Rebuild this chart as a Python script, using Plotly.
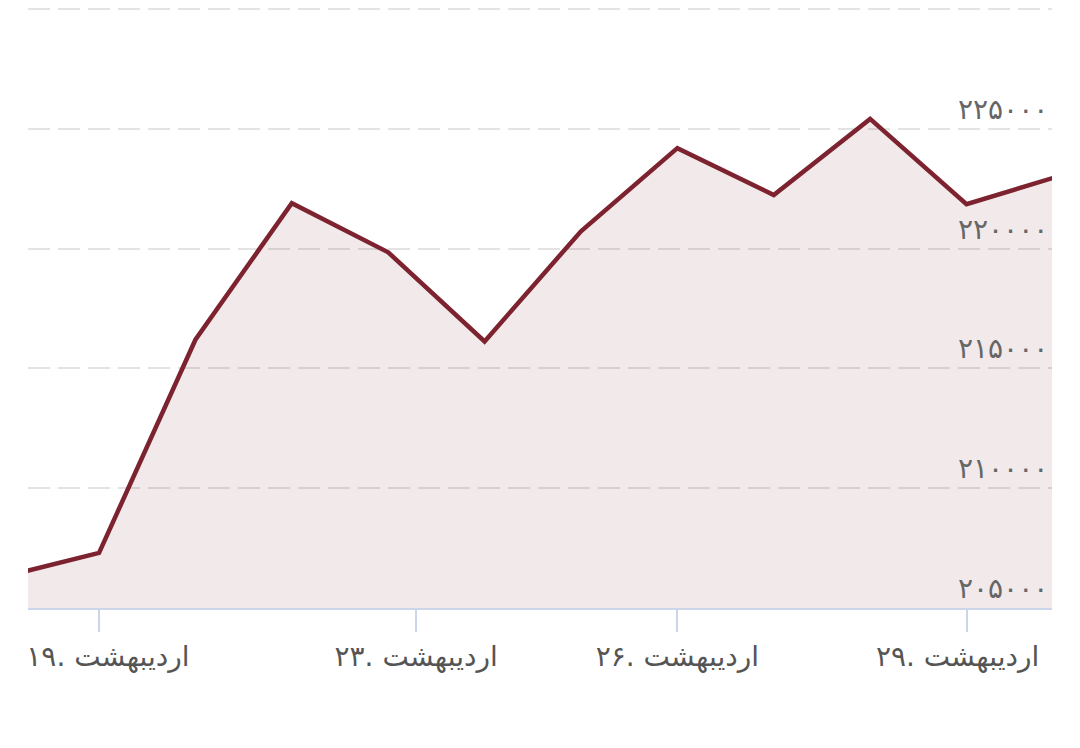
import plotly.graph_objects as go

# data (daily prices, Ordibehesht)
point_index = [0, 1, 2, 3, 4, 5, 6, 7, 8, 9, 10, 11]
prices = [206300, 207300, 216200, 221900, 219850, 216130,
          220730, 224200, 222240, 225420, 221860, 223080]

tick_positions = [1, 4.29, 7, 10]
tick_days = [19, 23, 26, 29]
month_name = "اردیبهشت"

y_ticks = [205000, 210000, 215000, 220000, 225000, 230000]
y_label_values = [205000, 210000, 215000, 220000, 225000]

FA_DIGITS = str.maketrans("0123456789", "۰۱۲۳۴۵۶۷۸۹")


def fa(n):
    return str(n).translate(FA_DIGITS)


x_labels = ["%s. %s" % (fa(d), month_name) for d in tick_days]
# edge labels are nudged inward like the original (justified to the plot box)
x_labels[0] = "\u00a0\u00a0" + x_labels[0]
x_labels[-1] = x_labels[-1] + "\u00a0\u00a0"

line_color = "#7d2330"

fig = go.Figure()
fig.add_trace(go.Scatter(
    x=point_index,
    y=prices,
    mode="lines",
    line=dict(color=line_color, width=4.5),
    fill="tozeroy",
    fillcolor="rgba(125, 35, 48, 0.1)",
    hoverinfo="skip",
))

# y labels sit inside the plot, right-aligned just above each gridline.
# done as annotations: inside tick labels make plotly hide the 29 tick
for v in y_label_values:
    fig.add_annotation(
        x=1, xref="paper",
        y=v, yref="y",
        text=fa(v),
        showarrow=False,
        xanchor="right",
        yanchor="bottom",
        xshift=-2,
        yshift=1,
        font=dict(size=28, color="#666666", family="DejaVu Sans"),
    )

# page body has an 8px margin, so the plot box is shifted back by that
fig.update_layout(
    width=1080,
    height=748,
    margin=dict(l=20, r=36, t=0, b=148),
    paper_bgcolor="white",
    plot_bgcolor="white",
    showlegend=False,
    font=dict(family="DejaVu Sans", color="#555555"),
    xaxis=dict(
        range=[0.263, 10.887],
        tickvals=tick_positions,
        ticktext=x_labels,
        ticks="outside",
        ticklen=22,
        tickwidth=2,
        tickcolor="#ccd6eb",
        showline=True,
        linecolor="#ccd6eb",
        linewidth=2,
        showgrid=False,
        zeroline=False,
        automargin=False,
        ticklabeloverflow="allow",
        tickfont=dict(size=28, color="#555555"),
    ),
    yaxis=dict(
        range=[205000, 230050],
        tickvals=y_ticks,
        showticklabels=False,
        ticks="",
        showline=False,
        zeroline=False,
        showgrid=True,
        gridcolor="#e3e3e3",
        gridwidth=2,
        griddash="22px,8px",
    ),
)

fig.write_html("out.html")
